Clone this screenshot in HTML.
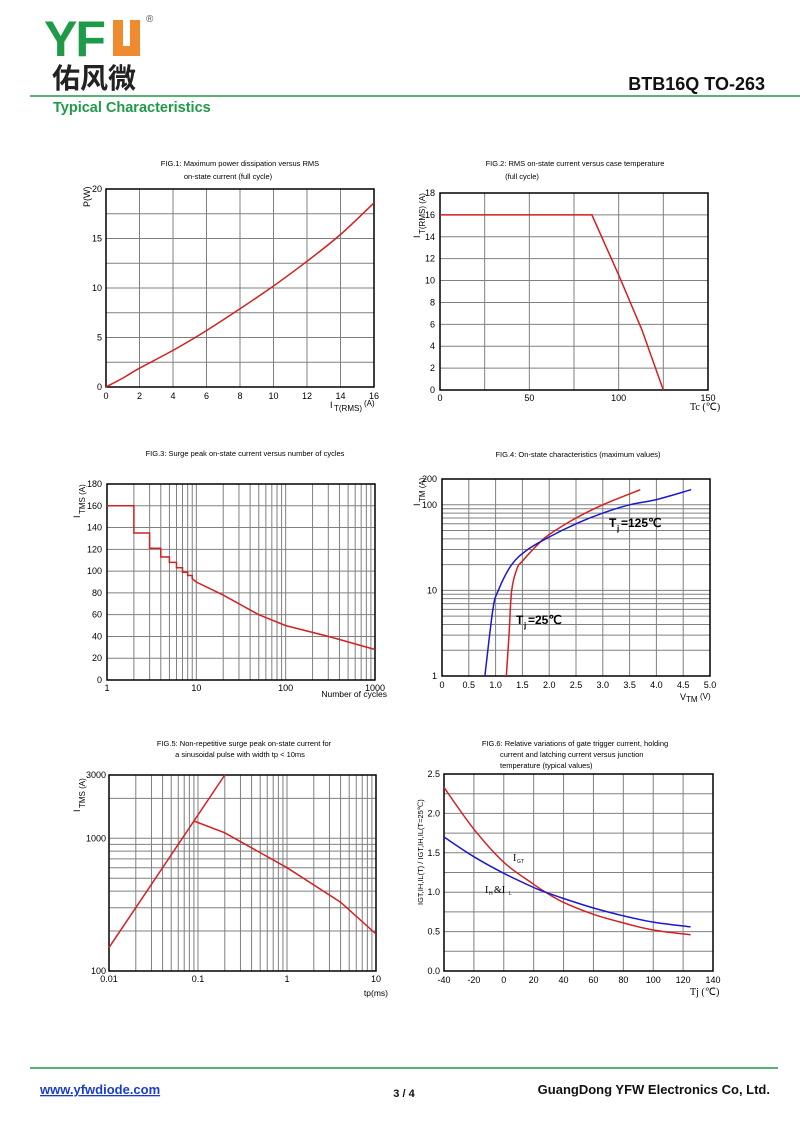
<!DOCTYPE html>
<html><head><meta charset="utf-8">
<style>
body{margin:0;background:#fff;}
svg{display:block;font-family:"Liberation Sans",Arial,sans-serif;}
</style></head>
<body>
<svg id="page" width="800" height="1130" viewBox="0 0 800 1130" xmlns="http://www.w3.org/2000/svg">
<g>
  <text x="44" y="56" font-size="50" font-weight="bold" fill="#1e9a48" letter-spacing="-2">YF</text>
  <path d="M113 20 h10 v26 h7 v-26 h10 v36 h-27 z" fill="#ef8a2e"/>
  <text x="146" y="22" font-size="10" fill="#555">®</text>
  <text x="52" y="88" font-size="28" font-weight="bold" fill="#222" font-family="Noto Sans CJK SC, sans-serif">佑风微</text>
  <line x1="30" y1="96" x2="800" y2="96" stroke="#1e9a48" stroke-width="1.5"/>
  <text x="53" y="112" font-size="14.5" font-weight="bold" fill="#1e9a48">Typical Characteristics</text>
  <text x="765" y="90" font-size="18" font-weight="bold" text-anchor="end" fill="#111">BTB16Q TO-263</text>
</g>
<g id="charts"></g>
<g>
  <line x1="30" y1="1068" x2="778" y2="1068" stroke="#1e9a48" stroke-width="1.5"/>
  <text x="40" y="1094" font-size="13" font-weight="bold" fill="#1a3ccc" text-decoration="underline">www.yfwdiode.com</text>
  <text x="404" y="1097" font-size="11" font-weight="bold" text-anchor="middle" fill="#111">3 / 4</text>
  <text x="770" y="1094" font-size="13" font-weight="bold" text-anchor="end" fill="#111">GuangDong YFW Electronics Co, Ltd.</text>
</g>
</svg>
<script>
// FIG1 data
const f1X=[0,1,2,4,6,8,10,12,14,16];
const f1Y=[0,0.9,1.9,3.7,5.7,7.9,10.2,12.7,15.4,18.6];
const f1XTicks=["0","2","4","6","8","10","12","14","16"];
const f1YTicks=["0","5","10","15","20"];
// FIG2
const f2X=[0,85,100,113,125];
const f2Y=[16,16,10.5,5.5,0];
const f2XTicks=["0","50","100","150"];
const f2YTicks=["0","2","4","6","8","10","12","14","16","18"];
// FIG3
const f3X=[1,2,2,3,3,4,4,5,5,6,6,7,7,8,8,9,9,10,20,50,100,300,1000];
const f3Y=[160,160,135,135,121,121,113,113,108,108,103,103,99,99,96,96,93,90,78,60,50,40,28];
const f3XTicks=["1","10","100","1000"];
const f3YTicks=["0","20","40","60","80","100","120","140","160","180"];
// FIG4
const f4X25=[1.2,1.25,1.3,1.4,1.5,1.8,2.0,2.5,3.0,3.7];
const f4Y25=[1,3,10,18,22,35,45,70,100,150];
const f4X125=[0.8,0.95,1.05,1.3,1.6,2.0,2.5,3.0,3.5,4.0,4.65];
const f4Y125=[1,6,10,20,30,42,60,80,100,115,150];
const f4XTicks=["0","0.5","1.0","1.5","2.0","2.5","3.0","3.5","4.0","4.5","5.0"];
// FIG5
const f5XA=[0.01,0.2];
const f5YA=[150,3000];
const f5XB=[0.09,0.2,1,4,10];
const f5YB=[1350,1100,600,330,190];
// FIG6
const f6X=[-40,-20,0,20,28,40,60,80,100,125];
const f6Igt=[2.33,1.8,1.38,1.1,1.0,0.87,0.72,0.61,0.52,0.46];
const f6Ih=[1.7,1.45,1.24,1.06,1.0,0.92,0.8,0.7,0.62,0.56];
const f6XTicks=["-40","-20","0","20","40","60","80","100","120","140"];
const f6YTicks=["0.0","0.5","1.0","1.5","2.0","2.5"];

const NS="http://www.w3.org/2000/svg";
const root=document.getElementById('charts');
function mk(tag,attrs,parent,txt){const e=document.createElementNS(NS,tag);for(const k in attrs)e.setAttribute(k,attrs[k]);if(txt!==undefined)e.textContent=txt;(parent||root).appendChild(e);return e;}
function lin(d0,d1,p0,p1){return v=>p0+(v-d0)/(d1-d0)*(p1-p0);}
function lg(d0,d1,p0,p1){return v=>p0+(Math.log10(v)-Math.log10(d0))/(Math.log10(d1)-Math.log10(d0))*(p1-p0);}
function frame(g,L,T,R,B){
  const r=mk('rect',{x:L,y:T,width:R-L,height:B-T,fill:'none',stroke:'#000','stroke-width':1.5},g);
  
  
}
function grid(g,x1,y1,x2,y2){
  const l=mk('line',{x1:x1,y1:y1,x2:x2,y2:y2,stroke:'#808080','stroke-width':1},g);
  
  
}
function txt(g,x,y,s,opt,name){
  const t=mk('text',Object.assign({x:x,y:y,'font-size':9,fill:'#000'},opt||{}),g,s);
  
  
  return t;
}
function line(g,xs,ys,sx,sy,color,name){
  let d='';xs.forEach((x,i)=>{d+=(i?'L':'M')+sx(x).toFixed(1)+' '+sy(ys[i]).toFixed(1);});
  const p=mk('path',{d:d,fill:'none',stroke:color,'stroke-width':1.5},g);
  
  
}
function smooth(g,xs,ys,sx,sy,color,name){
  const P=xs.map((x,i)=>[sx(x),sy(ys[i])]);
  let d='M'+P[0][0]+' '+P[0][1];
  for(let i=0;i<P.length-1;i++){
    const p0=P[i-1]||P[i],p1=P[i],p2=P[i+1],p3=P[i+2]||P[i+1];
    d+=' C'+(p1[0]+(p2[0]-p0[0])/6).toFixed(1)+' '+(p1[1]+(p2[1]-p0[1])/6).toFixed(1)+' '+(p2[0]-(p3[0]-p1[0])/6).toFixed(1)+' '+(p2[1]-(p3[1]-p1[1])/6).toFixed(1)+' '+p2[0].toFixed(1)+' '+p2[1].toFixed(1);
  }
  const p=mk('path',{d:d,fill:'none',stroke:color,'stroke-width':1.5},g);
  
  
}
function newChart(name){const g=mk('g',{});return g;}
function yTitle(g,x,y,sub){
  txt(g,x,y,'I',{transform:'rotate(-90 '+x+' '+y+')'},'y-axis-title');
  txt(g,x+5,y-4,sub,{transform:'rotate(-90 '+(x+5)+' '+(y-4)+')','font-size':8},'y-axis-title-sub');
}
const RED='#d42020',BLUE='#1a1acc';

// FIG1
(function(){const g=newChart('fig1-chart');const L=106,T=189,R=374,B=387;
 const sx=lin(0,16,L,R),sy=lin(0,20,B,T);
 for(let i=1;i<8;i++){grid(g,sx(i*2),T,sx(i*2),B);grid(g,L,sy(i*2.5),R,sy(i*2.5));}
 frame(g,L,T,R,B);
 f1XTicks.forEach(s=>txt(g,sx(+s),B+12,s,{'text-anchor':'middle'},'x-tick'));
 f1YTicks.forEach(s=>txt(g,L-4,sy(+s)+3,s,{'text-anchor':'end'},'y-tick'));
 txt(g,330,408,'I',{},'x-axis-title');txt(g,334,411,'T(RMS)',{'font-size':8},'x-axis-title-sub');txt(g,364,406,'(A)',{'font-size':8},'x-axis-unit');
 txt(g,90,207,'P(W)',{transform:'rotate(-90 90 207)'},'y-axis-title');
 txt(g,240,166,'FIG.1: Maximum power dissipation versus RMS',{'text-anchor':'middle','font-size':7.5},'chart-title');
 txt(g,228,179,'on-state current (full cycle)',{'text-anchor':'middle','font-size':7.5},'chart-title');
 smooth(g,f1X,f1Y,sx,sy,RED,'power-curve');})();

// FIG2
(function(){const g=newChart('fig2-chart');const L=440,T=193,R=708,B=390;
 const sx=lin(0,150,L,R),sy=lin(0,18,B,T);
 for(let i=1;i<6;i++)grid(g,sx(i*25),T,sx(i*25),B);
 for(let i=1;i<9;i++)grid(g,L,sy(i*2),R,sy(i*2));
 frame(g,L,T,R,B);
 f2XTicks.forEach(s=>txt(g,sx(+s),B+11,s,{'text-anchor':'middle'},'x-tick'));
 f2YTicks.forEach(s=>txt(g,L-5,sy(+s)+3,s,{'text-anchor':'end'},'y-tick'));
 txt(g,690,410,'Tc (℃)',{'font-size':10,'font-family':'Liberation Serif, serif'},'x-axis-title');
 yTitle(g,420,238,'T(RMS) (A)');
 txt(g,575,166,'FIG.2: RMS on-state current versus case temperature',{'text-anchor':'middle','font-size':7.5},'chart-title');
 txt(g,522,179,'(full cycle)',{'text-anchor':'middle','font-size':7.5},'chart-title');
 line(g,f2X,f2Y,sx,sy,RED,'derating-line');})();

// FIG3
(function(){const g=newChart('fig3-chart');const L=107,T=484,R=375,B=680;
 const sx=lg(1,1000,L,R),sy=lin(0,180,B,T);
 [1,10,100].forEach(d=>{for(let k=2;k<=10;k++)if(d*k<1000)grid(g,sx(d*k),T,sx(d*k),B);});
 for(let i=1;i<9;i++)grid(g,L,sy(i*20),R,sy(i*20));
 frame(g,L,T,R,B);
 f3XTicks.forEach(s=>txt(g,sx(+s),B+11,s,{'text-anchor':'middle'},'x-tick'));
 f3YTicks.forEach(s=>txt(g,L-5,sy(+s)+3,s,{'text-anchor':'end'},'y-tick'));
 txt(g,387,697,'Number of cycles',{'text-anchor':'end','font-size':8.5},'x-axis-title');
 yTitle(g,80,518,'TMS (A)');
 txt(g,245,456,'FIG.3: Surge peak on-state current versus number of cycles',{'text-anchor':'middle','font-size':7.5},'chart-title');
 line(g,f3X,f3Y,sx,sy,RED,'surge-curve');})();

// FIG4
(function(){const g=newChart('fig4-chart');const L=442,T=479,R=710,B=676;
 const sx=lin(0,5,L,R),sy=lg(1,200,B,T);
 for(let i=1;i<10;i++)grid(g,sx(i*0.5),T,sx(i*0.5),B);
 [1,10,100].forEach(d=>{for(let k=2;k<=10;k++)if(d*k<200)grid(g,L,sy(d*k),R,sy(d*k));});
 frame(g,L,T,R,B);
 f4XTicks.forEach(s=>txt(g,sx(+s),B+12,s,{'text-anchor':'middle'},'x-tick'));
 [["1",1],["10",10],["100",100],["200",200]].forEach(a=>txt(g,L-5,sy(a[1])+3,a[0],{'text-anchor':'end'},'y-tick'));
 txt(g,680,700,'V',{},'x-axis-title');txt(g,686,702,'TM',{'font-size':8},'x-axis-title-sub');txt(g,700,699,'(V)',{'font-size':8},'x-axis-unit');
 yTitle(g,420,506,'TM (A)');
 txt(g,578,457,'FIG.4: On-state characteristics (maximum values)',{'text-anchor':'middle','font-size':7.5},'chart-title');
 smooth(g,f4X25,f4Y25,sx,sy,RED,'tj25-curve');
 smooth(g,f4X125,f4Y125,sx,sy,BLUE,'tj125-curve');
 txt(g,609,527,'T',{'font-size':12,'font-weight':'bold'},'tj125-label');txt(g,617,531,'j',{'font-size':8,'font-weight':'bold'},'tj125-sub');txt(g,621,527,'=125℃',{'font-size':12,'font-weight':'bold'},'tj125-value');
 txt(g,516,624,'T',{'font-size':12,'font-weight':'bold'},'tj25-label');txt(g,524,628,'j',{'font-size':8,'font-weight':'bold'},'tj25-sub');txt(g,528,624,'=25℃',{'font-size':12,'font-weight':'bold'},'tj25-value');})();

// FIG5
(function(){const g=newChart('fig5-chart');const L=109,T=775,R=376,B=971;
 const sx=lg(0.01,10,L,R),sy=lg(100,3000,B,T);
 [0.01,0.1,1].forEach(d=>{for(let k=2;k<=10;k++)if(d*k<10)grid(g,sx(d*k),T,sx(d*k),B);});
 [100,1000].forEach(d=>{for(let k=2;k<=10;k++)if(d*k<3000)grid(g,L,sy(d*k),R,sy(d*k));});
 frame(g,L,T,R,B);
 [["0.01",0.01],["0.1",0.1],["1",1],["10",10]].forEach(a=>txt(g,sx(a[1]),B+11,a[0],{'text-anchor':'middle'},'x-tick'));
 [["100",100],["1000",1000],["3000",3000]].forEach(a=>txt(g,L-3,sy(a[1])+3,a[0],{'text-anchor':'end'},'y-tick'));
 txt(g,388,996,'tp(ms)',{'text-anchor':'end','font-size':8.5},'x-axis-title');
 yTitle(g,80,812,'TMS (A)');
 txt(g,244,746,'FIG.5: Non-repetitive surge peak on-state current for',{'text-anchor':'middle','font-size':7.5},'chart-title');
 txt(g,240,757,'a sinusoidal pulse with width tp < 10ms',{'text-anchor':'middle','font-size':7.5},'chart-title');
 line(g,f5XA,f5YA,sx,sy,RED,'i2t-line');
 line(g,f5XB,f5YB,sx,sy,RED,'itsm-curve');})();

// FIG6
(function(){const g=newChart('fig6-chart');const L=444,T=774,R=713,B=971;
 const sx=lin(-40,140,L,R),sy=lin(0,2.5,B,T);
 for(let i=1;i<9;i++)grid(g,sx(-40+i*20),T,sx(-40+i*20),B);
 for(let i=1;i<10;i++)grid(g,L,sy(i*0.25),R,sy(i*0.25));
 frame(g,L,T,R,B);
 f6XTicks.forEach(s=>txt(g,sx(+s),B+12,s,{'text-anchor':'middle'},'x-tick'));
 f6YTicks.forEach(s=>txt(g,L-4,sy(+s)+3,s,{'text-anchor':'end'},'y-tick'));
 txt(g,690,995,'Tj (℃)',{'font-size':10,'font-family':'Liberation Serif, serif'},'x-axis-title');
 txt(g,423,905,'IGT,IH,IL(T) / IGT,IH,IL(T=25℃)',{transform:'rotate(-90 423 905)','font-size':7.5},'y-axis-title');
 txt(g,575,746,'FIG.6: Relative variations of gate trigger current, holding',{'text-anchor':'middle','font-size':7.5},'chart-title');
 txt(g,500,757,'current and latching current versus junction',{'font-size':7.5},'chart-title');
 txt(g,500,768,'temperature (typical values)',{'font-size':7.5},'chart-title');
 smooth(g,f6X,f6Igt,sx,sy,RED,'igt-curve');
 smooth(g,f6X,f6Ih,sx,sy,BLUE,'ih-il-curve');
 txt(g,513,861,'I',{'font-size':10,'font-family':'Liberation Serif, serif'},'igt-label');txt(g,517,863,'GT',{'font-size':5},'igt-sub');
 txt(g,485,893,'I',{'font-size':10,'font-family':'Liberation Serif, serif'},'ih-il-label');txt(g,489,895,'H',{'font-size':5},'ih-sub');txt(g,494,893,'&I',{'font-size':10,'font-family':'Liberation Serif, serif'},'ih-il-amp');
 txt(g,509,895,'L',{'font-size':5},'il-sub');})();
</script>
</body></html>
